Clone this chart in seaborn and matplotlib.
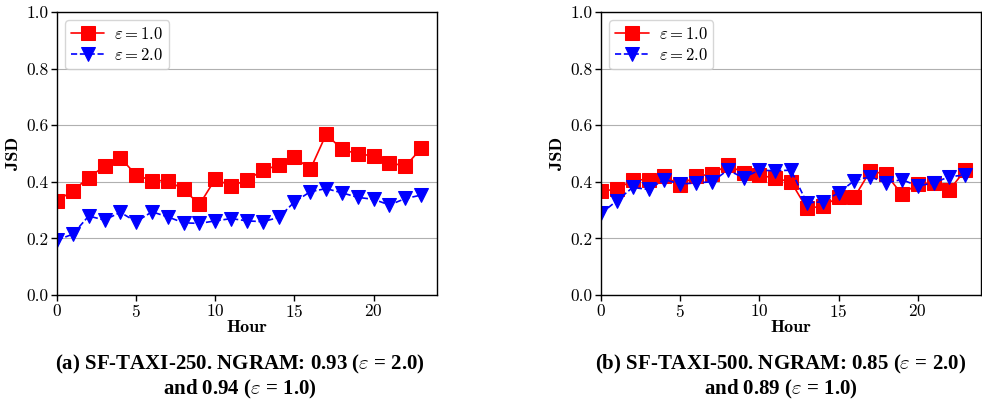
import numpy as np
import pandas as pd
import matplotlib.pyplot as plt
import seaborn as sns

# Hourly JSD values
hours = list(range(24))

taxi250_eps1 = [0.333, 0.368, 0.415, 0.455, 0.485, 0.424, 0.404, 0.404, 0.373, 0.320,
                0.410, 0.385, 0.406, 0.441, 0.459, 0.488, 0.444, 0.568, 0.515, 0.498,
                0.492, 0.468, 0.455, 0.518]
taxi250_eps2 = [0.194, 0.215, 0.279, 0.265, 0.292, 0.259, 0.294, 0.276, 0.255, 0.253,
                0.262, 0.270, 0.262, 0.259, 0.274, 0.329, 0.365, 0.376, 0.361, 0.345,
                0.338, 0.318, 0.341, 0.353]

taxi500_eps1 = [0.368, 0.373, 0.406, 0.408, 0.420, 0.388, 0.420, 0.427, 0.459, 0.432,
                0.424, 0.412, 0.400, 0.306, 0.314, 0.345, 0.345, 0.438, 0.427, 0.356,
                0.392, 0.396, 0.371, 0.441]
taxi500_eps2 = [0.288, 0.333, 0.380, 0.373, 0.408, 0.392, 0.396, 0.400, 0.441, 0.415,
                0.441, 0.439, 0.441, 0.326, 0.329, 0.361, 0.404, 0.418, 0.396, 0.408,
                0.385, 0.396, 0.418, 0.424]

captions = [
    r"(a) SF-TAXI-250. NGRAM: 0.93 ($\varepsilon$ = 2.0)" + "\n" + r"and 0.94 ($\varepsilon$ = 1.0)",
    r"(b) SF-TAXI-500. NGRAM: 0.85 ($\varepsilon$ = 2.0)" + "\n" + r"and 0.89 ($\varepsilon$ = 1.0)",
]

sns.set_style("white")
plt.rcParams["font.family"] = ["serif"]
plt.rcParams["font.serif"] = ["cmr10", "DejaVu Serif"]
plt.rcParams["mathtext.fontset"] = "cm"
plt.rcParams["axes.formatter.use_mathtext"] = True
plt.rcParams["text.color"] = "black"
plt.rcParams["axes.labelcolor"] = "black"

fig = plt.figure(figsize=(9.82, 4.04), dpi=100)
ax1 = fig.add_axes([57 / 982, 109 / 404, 380 / 982, 283 / 404])
ax2 = fig.add_axes([601 / 982, 109 / 404, 380 / 982, 283 / 404])

panels = [(ax1, taxi250_eps1, taxi250_eps2), (ax2, taxi500_eps1, taxi500_eps2)]

for ax, eps1, eps2 in panels:
    df = pd.DataFrame({"Hour": hours, "eps1": eps1, "eps2": eps2})
    sns.lineplot(data=df, x="Hour", y="eps1", ax=ax, color="red", marker="s",
                 markersize=10.5, markeredgecolor="red", linewidth=1.2,
                 linestyle="-", label=r"$\varepsilon = 1.0$")
    sns.lineplot(data=df, x="Hour", y="eps2", ax=ax, color="blue", marker="v",
                 markersize=10.5, markeredgecolor="blue", linewidth=1.2,
                 linestyle="--", label=r"$\varepsilon = 2.0$")
    ax.set_xlim(0, 24)
    ax.set_ylim(0, 1.0)
    ax.set_xticks([0, 5, 10, 15, 20])
    ax.set_yticks(np.arange(0, 1.01, 0.2))
    ax.set_yticklabels([f"{v:.1f}" for v in np.arange(0, 1.01, 0.2)])
    ax.yaxis.grid(True, color="#b0b0b0", linewidth=0.8)
    ax.xaxis.grid(False)
    ax.set_axisbelow(True)
    for sp in ax.spines.values():
        sp.set_color("black")
        sp.set_linewidth(1.0)
    ax.tick_params(axis="both", which="both", direction="out", length=4,
                   width=1, colors="black", labelsize=12.5, left=True, bottom=True,
                   pad=2)
    ax.set_xlabel("Hour", fontsize=13, fontweight="bold", labelpad=0,
                  family=["cmb10", "DejaVu Serif"])
    ax.set_ylabel("JSD", fontsize=13, fontweight="bold", labelpad=4,
                  family=["cmb10", "DejaVu Serif"])
    ax.legend(loc="upper left", fontsize=12, frameon=True, framealpha=0.8,
              edgecolor="#cccccc", handlelength=2.0, borderpad=0.35,
              labelspacing=0.3, handletextpad=0.6)

for cx, text in zip([240, 781], captions):
    fig.text(cx / 982, 1 - 377 / 404, text, ha="center", va="center",
             fontsize=15, fontweight="bold", family=["Liberation Serif"],
             linespacing=1.15, color="black")

fig.savefig("out.png", dpi=100)
